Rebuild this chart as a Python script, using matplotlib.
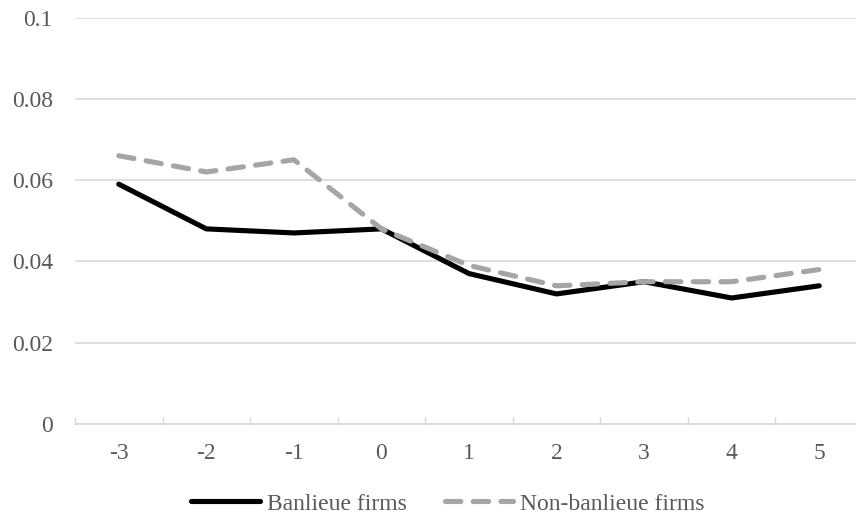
import matplotlib.pyplot as plt
import numpy as np

# event-time categories and the two series
years = ['-3', '-2', '-1', '0', '1', '2', '3', '4', '5']
banlieue = [0.059, 0.048, 0.047, 0.048, 0.037, 0.032, 0.035, 0.031, 0.034]
non_banlieue = [0.066, 0.062, 0.065, 0.048, 0.039, 0.034, 0.035, 0.035, 0.038]
yticks = [0, 0.02, 0.04, 0.06, 0.08, 0.1]
ytick_labels = ['0', '0.02', '0.04', '0.06', '0.08', '0.1']

plt.rcParams['font.family'] = ['Liberation Serif', 'DejaVu Serif']
txt = '#595959'
grid = '#D9D9D9'
fs = 17

fig = plt.figure(figsize=(8.56, 5.19), dpi=100)
# plot area runs a little past the right edge, as in the original export
ax = fig.add_axes([75 / 856, 95 / 519, 788 / 856, (424 - 17.5) / 519])

x = np.arange(len(years))
ax.plot(x, banlieue, color='black', lw=3.7, solid_capstyle='round',
        solid_joinstyle='round', label='Banlieue firms', zorder=3)
ax.plot(x, non_banlieue, color='#A5A5A5', lw=3.7, dashes=(3, 2.4),
        dash_capstyle='round', dash_joinstyle='round',
        label='Non-banlieue firms', zorder=4)

ax.set_xlim(-0.5, len(years) - 0.5)
ax.set_ylim(0, 0.1)
ax.set_yticks(yticks)
ax.set_yticklabels(ytick_labels)
ax.set_xticks(x)
ax.set_xticklabels(years)
ax.set_xticks(np.arange(len(years) + 1) - 0.5, minor=True)

ax.tick_params(axis='y', length=0, pad=16, labelsize=fs, labelcolor=txt)
ax.tick_params(axis='x', which='major', length=0, pad=14, labelsize=fs, labelcolor=txt)
ax.tick_params(axis='x', which='minor', direction='in', length=5, width=1, color=grid)

for s in ['top', 'right', 'left']:
    ax.spines[s].set_visible(False)
ax.spines['bottom'].set_color(grid)
ax.spines['bottom'].set_linewidth(1.2)

ax.yaxis.grid(True, color=grid, lw=1.2)
ax.set_axisbelow(True)

fig.legend(loc='center', bbox_to_anchor=(448 / 856, 1 - 504 / 519), ncol=2,
           frameon=False, fontsize=fs, labelcolor=txt, handlelength=2.9,
           handletextpad=0.3, columnspacing=1.6)

fig.savefig('out.png', dpi=100)
